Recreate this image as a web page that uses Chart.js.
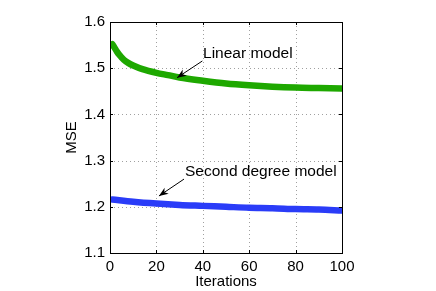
<!DOCTYPE html>
<html>
<head>
<meta charset="utf-8">
<script src="https://cdn.jsdelivr.net/npm/chart.js@4"></script>
<style>
  html, body { margin: 0; padding: 0; background: #fff; }
  #wrap { width: 436px; height: 291px; }
</style>
</head>
<body>
<div id="wrap"><canvas id="mseChart" width="436" height="291"></canvas></div>
<script>
const linearIters = [1, 2, 3, 4, 6, 8, 10, 14, 20, 25, 30, 40, 50, 60, 70, 80, 90, 100];
const linearMse = [1.552, 1.544, 1.536, 1.529, 1.518, 1.511, 1.506, 1.498, 1.490, 1.485, 1.480, 1.473, 1.467, 1.463, 1.460, 1.458, 1.457, 1.456];

const secondIters = [1, 10, 20, 30, 40, 50, 60, 70, 80, 90, 100];
const secondMse = [1.216, 1.211, 1.207, 1.204, 1.202, 1.200, 1.198, 1.197, 1.195, 1.194, 1.192];

const xTicks = [0, 20, 40, 60, 80, 100];
const yTicks = [1.1, 1.2, 1.3, 1.4, 1.5, 1.6];

// text label (left, baseline) + arrow tail/head, in data units
const notes = [
  { text: "Linear model", at: [40.1, 1.5227], tail: [39.8, 1.5156], head: [28.9, 1.4794] },
  { text: "Second degree model", at: [32.3, 1.2667], tail: [31.9, 1.260], head: [21.1, 1.2234] },
];

const FONT = "'Liberation Sans', Arial, Helvetica, sans-serif";

const toPoints = (xs, ys) => xs.map((x, i) => ({ x, y: ys[i] }));

const frame = {
  id: "frame",
  beforeDatasetsDraw(chart) {
    const { ctx, chartArea: a, scales } = chart;
    ctx.save();
    ctx.strokeStyle = "#a0a0a0";
    ctx.lineWidth = 1;
    ctx.setLineDash([1, 3]);
    ctx.beginPath();
    xTicks.slice(1, -1).forEach((t) => {
      const px = Math.round(scales.x.getPixelForValue(t)) + 0.5;
      ctx.moveTo(px, a.top); ctx.lineTo(px, a.bottom);
    });
    yTicks.slice(1, -1).forEach((t) => {
      const py = Math.round(scales.y.getPixelForValue(t)) + 0.5;
      ctx.moveTo(a.left, py); ctx.lineTo(a.right, py);
    });
    ctx.stroke();
    ctx.restore();
  },
  afterDatasetsDraw(chart) {
    const { ctx, chartArea: a, scales } = chart;
    ctx.save();
    // inward tick marks
    ctx.strokeStyle = "#000";
    ctx.lineWidth = 1;
    ctx.beginPath();
    xTicks.forEach((t) => {
      const px = Math.round(scales.x.getPixelForValue(t)) + 0.5;
      ctx.moveTo(px, a.bottom); ctx.lineTo(px, a.bottom - 3);
      ctx.moveTo(px, a.top); ctx.lineTo(px, a.top + 3);
    });
    yTicks.forEach((t) => {
      const py = Math.round(scales.y.getPixelForValue(t)) + 0.5;
      ctx.moveTo(a.left, py); ctx.lineTo(a.left + 3, py);
      ctx.moveTo(a.right, py); ctx.lineTo(a.right - 3, py);
    });
    ctx.stroke();
    // box
    ctx.strokeRect(Math.round(a.left) + 0.5, Math.round(a.top) + 0.5,
      Math.round(a.right - a.left), Math.round(a.bottom - a.top));

    // annotations
    ctx.fillStyle = "#000";
    ctx.font = "15.5px " + FONT;
    ctx.textBaseline = "alphabetic";
    ctx.textAlign = "left";
    notes.forEach((n) => {
      const tx = scales.x.getPixelForValue(n.at[0]);
      const ty = scales.y.getPixelForValue(n.at[1]);
      ctx.fillText(n.text, tx, ty);
      const x1 = scales.x.getPixelForValue(n.tail[0]);
      const y1 = scales.y.getPixelForValue(n.tail[1]);
      const x2 = scales.x.getPixelForValue(n.head[0]);
      const y2 = scales.y.getPixelForValue(n.head[1]);
      ctx.beginPath();
      ctx.moveTo(x1, y1); ctx.lineTo(x2, y2);
      ctx.stroke();
      const ang = Math.atan2(y2 - y1, x2 - x1);
      const len = 10, w = 0.38;
      ctx.beginPath();
      ctx.moveTo(x2, y2);
      ctx.lineTo(x2 - len * Math.cos(ang - w), y2 - len * Math.sin(ang - w));
      ctx.lineTo(x2 - len * 0.65 * Math.cos(ang), y2 - len * 0.65 * Math.sin(ang));
      ctx.lineTo(x2 - len * Math.cos(ang + w), y2 - len * Math.sin(ang + w));
      ctx.closePath();
      ctx.fill();
    });
    ctx.restore();
  },
};

new Chart(document.getElementById("mseChart"), {
  type: "line",
  data: {
    datasets: [
      {
        label: "Linear model",
        data: toPoints(linearIters, linearMse),
        borderColor: "#1ea800",
        backgroundColor: "#1ea800",
        borderWidth: 6.5,
        borderCapStyle: "round",
        pointRadius: 0,
        cubicInterpolationMode: "monotone",
      },
      {
        label: "Second degree model",
        data: toPoints(secondIters, secondMse),
        borderColor: "#2a3cf8",
        backgroundColor: "#2a3cf8",
        borderWidth: 6.5,
        borderCapStyle: "round",
        pointRadius: 0,
        cubicInterpolationMode: "monotone",
      },
    ],
  },
  options: {
    responsive: false,
    animation: false,
    layout: { padding: { top: 22, right: 94, left: 0, bottom: 0 } },
    plugins: { legend: { display: false }, tooltip: { enabled: false } },
    scales: {
      x: {
        type: "linear",
        min: 0,
        max: 100,
        afterBuildTicks: (s) => { s.ticks = xTicks.map((v) => ({ value: v })); },
        afterFit: (s) => { s.height = 38; },
        grid: { display: false, drawTicks: false },
        border: { display: true, color: "#000" },
        ticks: { color: "#000", padding: 5, font: { family: FONT, size: 15 } },
        title: { display: true, text: "Iterations", color: "#000", padding: { top: 0, bottom: 0 }, font: { family: FONT, size: 15 } },
      },
      y: {
        type: "linear",
        min: 1.1,
        max: 1.6,
        afterBuildTicks: (s) => { s.ticks = yTicks.map((v) => ({ value: v })); },
        afterFit: (s) => { s.width = 110; },
        grid: { display: false, drawTicks: false },
        border: { display: true, color: "#000" },
        ticks: { color: "#000", padding: 5, font: { family: FONT, size: 15 }, callback: (v) => Number(v).toFixed(1) },
        title: { display: true, text: "MSE", color: "#000", padding: { top: 63, bottom: 0 }, font: { family: FONT, size: 15 } },
      },
    },
  },
  plugins: [frame],
});
</script>
</body>
</html>
